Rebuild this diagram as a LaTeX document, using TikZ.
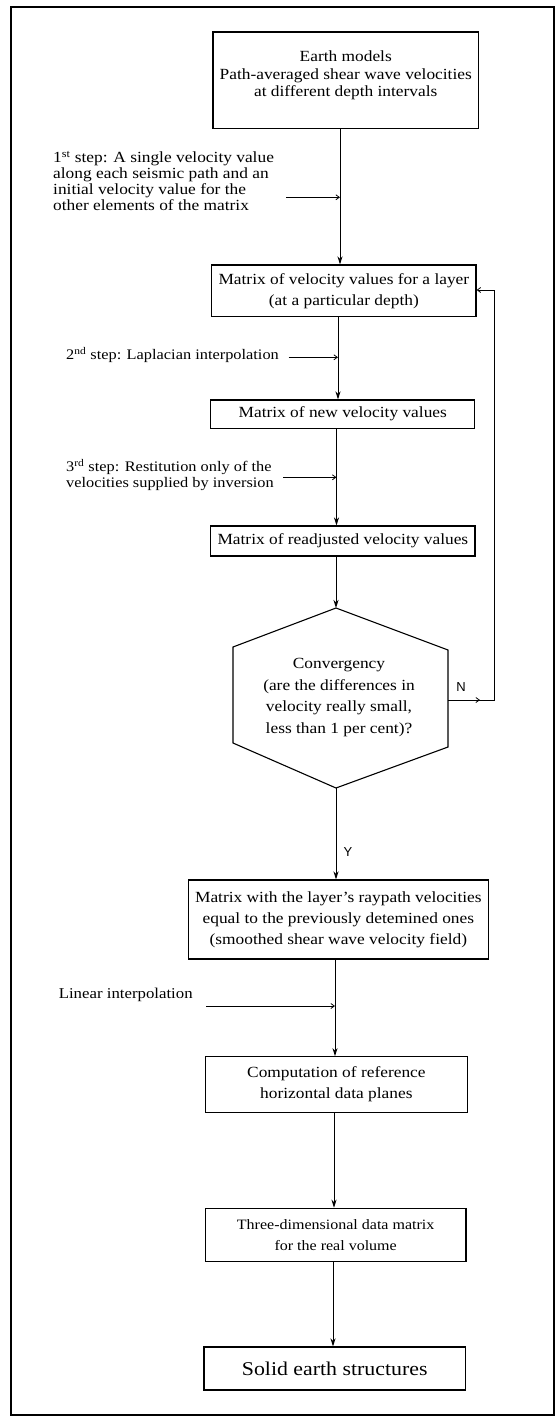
\documentclass[tikz,border=0pt]{standalone}
\usepackage{fontspec}
\setmainfont{Liberation Serif}[FakeStretch=1.12]
\newfontfamily\ynfont{Liberation Sans}
\usetikzlibrary{arrows.meta,calc}
\begin{document}
\begin{tikzpicture}[x=1pt,y=-1pt,
  box/.style={draw, line width=1.1pt, inner sep=0pt, align=center, font=\fontsize{15.5}{21}\selectfont},
  conn/.style={line width=1pt},
  mainarrow/.style={conn, -{Stealth[length=8pt,width=5pt,inset=2.5pt]}},
  sidearrow/.style={line width=0.8pt, -{Straight Barb[length=3.5pt,width=5pt]}},
  side/.style={anchor=west, align=left, inner sep=0pt},
  yn/.style={font=\ynfont\fontsize{13}{13}\selectfont, inner sep=0pt}
]
\useasboundingbox (0,0) rectangle (557,1418);
\fill[white] (0,0) rectangle (557,1418);
\draw[line width=1.4pt] (11,7) rectangle (554,1415);

% boxes
\node[box, minimum width=265.5pt, minimum height=96.3pt] (b1) at (345.75,80.15) {};
\node[align=center, inner sep=0pt, font=\fontsize{15.5}{17.5}\selectfont] (b1t) at (345.75,75.5)
  {Earth models\\Path-averaged shear wave velocities\\at different depth intervals};
\node[box, minimum width=264.3pt, minimum height=51.7pt] (b2) at (343.85,290.85)
  {Matrix of velocity values for a layer\\(at a particular depth)};
\node[box, minimum width=264.1pt, minimum height=28.3pt] (b3) at (342.75,414.15)
  {Matrix of new velocity values};
\node[box, minimum width=264.3pt, minimum height=30pt] (b4) at (342.85,541)
  {Matrix of readjusted velocity values};
\node[box, minimum width=300.1pt, minimum height=79pt] (b5) at (338.35,919.5)
  {Matrix with the layer's raypath velocities\\equal to the previously detemined ones\\(smoothed shear wave velocity field)};
\node[box, minimum width=262.2pt, minimum height=55.6pt] (b6) at (336.4,1084.5)
  {Computation of reference\\horizontal data planes};
\node[box, minimum width=260.7pt, minimum height=53.4pt, font=\fontsize{14.3}{21}\selectfont] (b7) at (335.65,1235)
  {Three-dimensional data matrix\\for the real volume};
\node[box, minimum width=261.4pt, minimum height=43pt, font=\fontsize{19.5}{21}\selectfont] (b8) at (334.7,1368.5)
  {Solid earth structures};

% hexagon
\coordinate (hT) at (336,608);
\coordinate (hUR) at (448,650);
\coordinate (hLR) at (448,747);
\coordinate (hB) at (336,788);
\coordinate (hLL) at (233,743);
\coordinate (hUL) at (233,647);
\draw[line width=1.1pt, line join=miter] (hT) -- (hUR) -- (hLR) -- (hB) -- (hLL) -- (hUL) -- cycle;
\node[align=center, inner sep=0pt, font=\fontsize{15.5}{21.7}\selectfont] (hex) at (339,697.5)
  {Convergency\\(are the differences in\\velocity really small,\\less than 1 per cent)?};

% column coordinates
\coordinate (c1) at (340,0);
\coordinate (c2) at (338,0);
\coordinate (c3) at (336.5,0);
\coordinate (c6) at (335,0);
\coordinate (c7) at (334,0);
\coordinate (c8) at (333,0);

% main arrows
\draw[mainarrow] (b1.south -| c1) -- (b2.north -| c1);
\draw[mainarrow] (b2.south -| c2) -- (b3.north -| c2);
\draw[mainarrow] (b3.south -| c3) -- (b4.north -| c3);
\draw[mainarrow] (b4.south -| hT) -- (hT);
\draw[mainarrow] (hB) -- (b5.north -| hB);
\draw[mainarrow] (b5.south -| c6) -- (b6.north -| c6);
\draw[mainarrow] (b6.south -| c7) -- (b7.north -| c7);
\draw[mainarrow] (b7.south -| c8) -- (b8.north -| c8);

% side texts
\node[side, font=\fontsize{15.5}{16.1}\selectfont] (t1) at (53,181)
  {1\textsuperscript{st} step: A single velocity value\\along each seismic path and an\\initial velocity value for the\\other elements of the matrix};
\node[side, font=\fontsize{14.6}{16.7}\selectfont] (t2) at (66,355)
  {2\textsuperscript{nd} step: Laplacian interpolation};
\node[side, font=\fontsize{14.6}{16.7}\selectfont] (t3) at (66,475)
  {3\textsuperscript{rd} step: Restitution only of the\\velocities supplied by inversion};
\node[side, font=\fontsize{15}{16.7}\selectfont] (t4) at (58.6,995)
  {Linear interpolation};

% side arrows
\coordinate (s1) at (286,197.3);
\coordinate (s2) at (288.5,357.3);
\coordinate (s3) at (283,477.3);
\coordinate (s4) at (206.4,1006);
\draw[sidearrow] (s1) -- (s1 -| c1);
\draw[sidearrow] (s2) -- (s2 -| c2);
\draw[sidearrow] (s3) -- (s3 -| c3);
\draw[sidearrow] (s4) -- (s4 -| c6);

% feedback loop
\coordinate (hN) at (448,700);
\coordinate (fbM) at (480,700);
\coordinate (fbA) at (494,700);
\coordinate (fbB) at (494,290);
\draw[conn] (hN) -- (fbA) -- (fbB);
\draw[sidearrow] (hN) -- (fbM);
\draw[sidearrow] (fbB) -- (b2.east |- fbB);

% labels
\node[yn] (lN) at (461,687) {N};
\node[yn] (lY) at (348,852) {Y};
\end{tikzpicture}
\end{document}
